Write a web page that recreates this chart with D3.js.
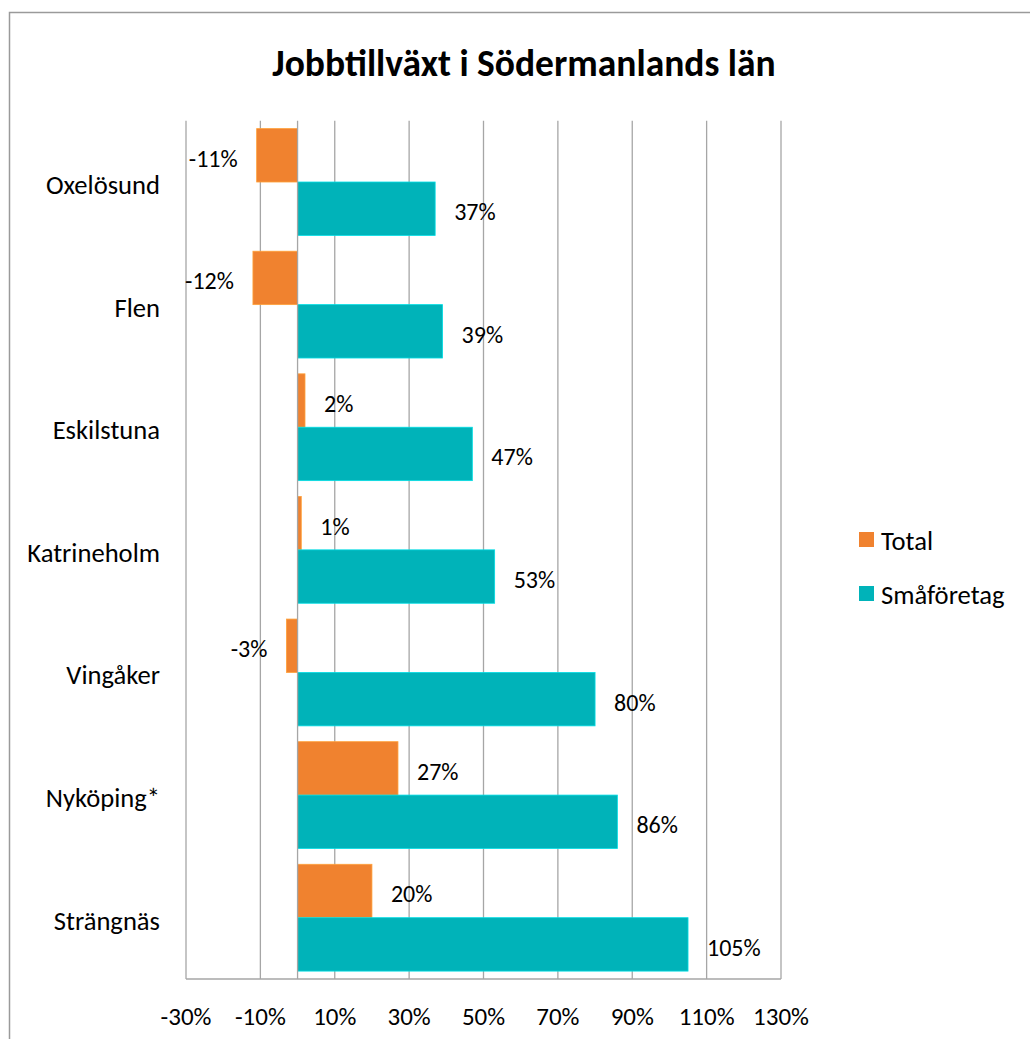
<!DOCTYPE html>
<html>
<head>
<meta charset="utf-8">
<script src="https://cdn.jsdelivr.net/npm/d3@7"></script>
<style>
  html, body { margin: 0; padding: 0; background: #fff; }
  svg { display: block; }
  text { font-family: Carlito, Lato, "Open Sans", sans-serif; fill: #000; }
</style>
</head>
<body>
<svg id="chart" width="1030" height="1039"></svg>
<script>
const categories = ["Oxelösund", "Flen", "Eskilstuna", "Katrineholm", "Vingåker", "Nyköping*", "Strängnäs"];
const seriesNames = ["Total", "Småföretag"];
const totalValues = [-11, -12, 2, 1, -3, 27, 20];
const smallBizValues = [37, 39, 47, 53, 80, 86, 105];
const tickValues = [-30, -10, 10, 30, 50, 70, 90, 110, 130];
const seriesColors = ["#F0822F", "#00B3B9"];
const title = "Jobbtillväxt i Södermanlands län";

const svg = d3.select("#chart");

// chart border
svg.append("rect").attr("x", 9.5).attr("y", 12.5).attr("width", 1040).attr("height", 1040)
  .attr("fill", "none").attr("stroke", "#9a9a9a").attr("stroke-width", 1.5);

// title
svg.append("text").attr("x", 524).attr("y", 76).attr("text-anchor", "middle")
  .style("font-size", "37.5px").style("font-weight", "bold").text(title);

const plot = { left: 186, right: 781, top: 120.7, bottom: 979 };
const x = d3.scaleLinear().domain([-30, 130]).range([plot.left, plot.right]);
const y = d3.scaleBand().domain(categories).range([plot.top, plot.bottom]).padding(0);
const y1 = d3.scaleBand().domain(seriesNames).range([0, y.bandwidth()]).paddingInner(0).paddingOuter(0.148);

const data = categories.map((c, i) => ({ cat: c, vals: [
  { s: seriesNames[0], v: totalValues[i], color: seriesColors[0] },
  { s: seriesNames[1], v: smallBizValues[i], color: seriesColors[1] }
]}));

// gridlines
svg.append("g").selectAll("line").data(tickValues).join("line")
  .attr("x1", d => x(d)).attr("x2", d => x(d))
  .attr("y1", plot.top).attr("y2", plot.bottom)
  .attr("stroke", "#a6a6a6").attr("stroke-width", 1.3);

// bottom axis line
svg.append("line").attr("x1", plot.left).attr("x2", plot.right)
  .attr("y1", plot.bottom).attr("y2", plot.bottom)
  .attr("stroke", "#a6a6a6").attr("stroke-width", 1.5);

// bars
const groups = svg.append("g").selectAll("g").data(data).join("g")
  .attr("transform", d => `translate(0,${y(d.cat)})`);

groups.selectAll("rect").data(d => d.vals).join("rect")
  .attr("x", d => x(Math.min(0, d.v)))
  .attr("width", d => Math.abs(x(d.v) - x(0)))
  .attr("y", d => y1(d.s))
  .attr("height", y1.bandwidth())
  .attr("fill", d => d.color)
  .attr("stroke", d => d3.color(d.color).brighter(0.6))
  .attr("stroke-width", 0.8);

// zero axis line
svg.append("line").attr("x1", x(0)).attr("x2", x(0))
  .attr("y1", plot.top).attr("y2", plot.bottom)
  .attr("stroke", "#a6a6a6").attr("stroke-width", 1.3);

// data labels
groups.selectAll("text.lbl").data(d => d.vals).join("text")
  .attr("class", "lbl")
  .attr("x", d => d.v >= 0 ? x(d.v) + 19 : x(d.v) - 19)
  .attr("y", d => y1(d.s) + y1.bandwidth() / 2 + 3)
  .attr("text-anchor", d => d.v >= 0 ? "start" : "end")
  .attr("dominant-baseline", "central")
  .style("font-size", "24px")
  .text(d => d.v + "%");

// category labels
svg.append("g").selectAll("text").data(categories).join("text")
  .attr("x", 160).attr("y", d => y(d) + y.bandwidth() / 2 + 3)
  .attr("text-anchor", "end").attr("dominant-baseline", "central")
  .style("font-size", "26.6px").text(d => d);

// x tick labels
svg.append("g").selectAll("text").data(tickValues).join("text")
  .attr("x", d => x(d)).attr("y", 1016)
  .attr("text-anchor", "middle").attr("dominant-baseline", "central")
  .style("font-size", "25px").text(d => d + "%");

// legend
const legend = svg.append("g").selectAll("g").data(seriesNames).join("g")
  .attr("transform", (d, i) => `translate(859,${532 + i * 54})`);
legend.append("rect").attr("width", 15).attr("height", 15).attr("fill", (d, i) => seriesColors[i]);
legend.append("text").attr("x", 22).attr("y", 8.5).attr("dominant-baseline", "central")
  .style("font-size", "26.6px").text(d => d);
</script>
</body>
</html>
